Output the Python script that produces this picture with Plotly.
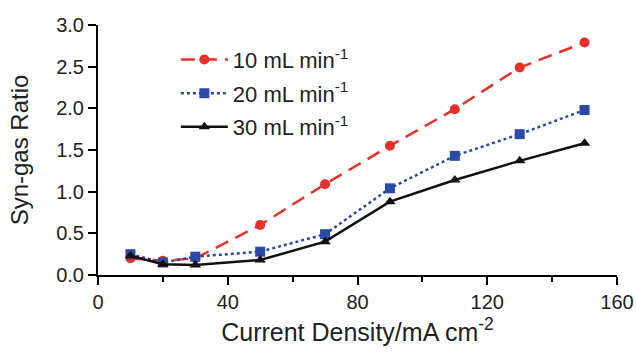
import plotly.graph_objects as go

current_density = [10, 20, 30, 50, 70, 90, 110, 130, 150]
ratio_10 = [0.20, 0.17, 0.20, 0.60, 1.09, 1.55, 1.99, 2.49, 2.79]
ratio_20 = [0.25, 0.15, 0.22, 0.28, 0.49, 1.04, 1.43, 1.69, 1.98]
ratio_30 = [0.23, 0.13, 0.12, 0.18, 0.40, 0.88, 1.14, 1.37, 1.58]
series_names = ["10 mL min<sup>-1</sup>", "20 mL min<sup>-1</sup>", "30 mL min<sup>-1</sup>"]
x_tick_vals = [0, 40, 80, 120, 160]
y_tick_vals = [0.0, 0.5, 1.0, 1.5, 2.0, 2.5, 3.0]

FONT = "Liberation Sans, Arial, sans-serif"

fig = go.Figure()
fig.add_trace(go.Scatter(
    x=current_density, y=ratio_10, name=series_names[0], mode="lines+markers", legendgroup="a",
    line=dict(color="#e8302a", width=2.5, dash="14px,8px"),
    marker=dict(symbol="circle", size=10, color="#e8302a")))
fig.add_trace(go.Scatter(
    x=current_density, y=ratio_20, name=series_names[1], mode="lines+markers", legendgroup="b",
    line=dict(color="#2b4aa8", width=2.5, dash="dot"),
    marker=dict(symbol="square", size=10, color="#2b4aa8")))
fig.add_trace(go.Scatter(
    x=current_density, y=ratio_30, name=series_names[2], mode="lines+markers", legendgroup="c",
    line=dict(color="#111111", width=2.5),
    marker=dict(symbol="triangle-up", size=10, color="#111111")))

fig.update_layout(
    width=636, height=352,
    margin=dict(l=98, r=19, t=25, b=77),
    paper_bgcolor="white", plot_bgcolor="white",
    font=dict(family=FONT, color="#222222"),
    showlegend=True,
    legend=dict(x=0.15, y=0.945, xanchor="left", yanchor="top",
                bgcolor="rgba(0,0,0,0)", font=dict(size=22, family=FONT, color="#222222"),
                itemwidth=47, tracegroupgap=2),
)
fig.update_xaxes(
    range=[0, 160], tickvals=x_tick_vals, showgrid=False, zeroline=False, automargin=False,
    showline=True, linecolor="black", linewidth=2,
    ticks="outside", ticklen=8, tickwidth=2, tickcolor="black",
    tickfont=dict(size=20, family=FONT, color="#222222"),
    minor=dict(dtick=20, tick0=0, ticks="outside", ticklen=5, tickwidth=2, tickcolor="black"),
    title=dict(text="Current Density/mA cm<sup>-2</sup>", font=dict(size=25, family=FONT, color="#222222"), standoff=11),
)
fig.update_yaxes(
    range=[0, 3.0], tickvals=y_tick_vals, tickformat=".1f", showgrid=False, zeroline=False, automargin=False,
    showline=True, linecolor="black", linewidth=2,
    ticks="outside", ticklen=8, tickwidth=2, tickcolor="black",
    tickfont=dict(size=20, family=FONT, color="#222222"),
    title=dict(text="Syn-gas Ratio", font=dict(size=24, family=FONT, color="#222222"), standoff=21),
)

fig.write_html("out.html")
